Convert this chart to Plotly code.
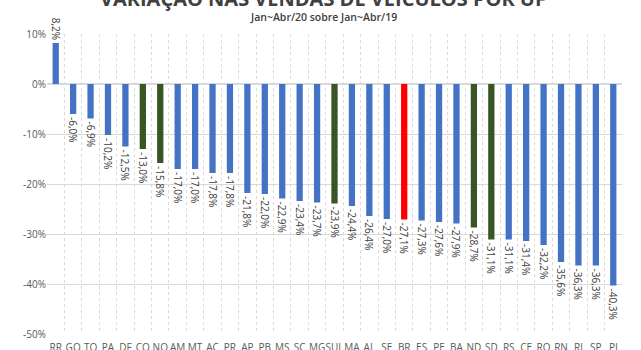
import plotly.graph_objects as go

categories = ["RR","GO","TO","PA","DF","CO","NO","AM","MT","AC","PR","AP","PB","MS","SC","MG",
              "SUL","MA","AL","SE","BR","ES","PE","BA","ND","SD","RS","CE","RO","RN","RJ","SP","PI"]
values = [8.2,-6.0,-6.9,-10.2,-12.5,-13.0,-15.8,-17.0,-17.0,-17.8,-17.8,-21.8,-22.0,-22.9,-23.4,-23.7,
          -23.9,-24.4,-26.4,-27.0,-27.1,-27.3,-27.6,-27.9,-28.7,-31.1,-31.1,-31.4,-32.2,-35.6,-36.3,-36.3,-40.3]
green_cats = ["CO","NO","SUL","ND","SD"]
red_cats = ["BR"]
y_ticks = [10, 0, -10, -20, -30, -40, -50]

BLUE = "#4472C4"
GREEN = "#375623"
RED = "#FF0000"
colors = [RED if c in red_cats else GREEN if c in green_cats else BLUE for c in categories]
labels = [f"{v:.1f}%".replace(".", ",") for v in values]

font = "Open Sans"
fig = go.Figure(go.Bar(
    x=categories, y=values, marker=dict(color=colors, line=dict(width=0)),
    text=labels, textposition="outside", textangle=90, cliponaxis=False,
    textfont=dict(family=font, size=10, color="#404040"),
))

fig.update_layout(
    width=641, height=350,
    margin=dict(l=47, r=19, t=34, b=16),
    paper_bgcolor="white", plot_bgcolor="white",
    bargap=0.64, showlegend=False,
    font=dict(family=font, color="#595959"),
    uniformtext=dict(minsize=9, mode="show"),
)
fig.update_xaxes(
    type="category", tickson="boundaries", showgrid=True, gridcolor="#d9d9d9",
    griddash="dot", gridwidth=1, ticks="", tickangle=0, automargin=False,
    ticklabelstandoff=6,
    tickfont=dict(size=10, color="#595959"), showline=False,
)
fig.update_yaxes(
    range=[-50, 10], tickvals=y_ticks, ticktext=[f"{t}%" for t in y_ticks],
    showgrid=True, gridcolor="#d9d9d9", zeroline=True, zerolinecolor="#d9d9d9",
    tickfont=dict(size=10, color="#595959"), ticks="", showline=False, automargin=False,
)
fig.add_annotation(text="<b>VARIAÇÃO NAS VENDAS DE VEÍCULOS POR UF</b>", xref="paper", x=0.48,
                   yref="paper", y=1, yshift=20, yanchor="bottom", showarrow=False,
                   font=dict(family=font, size=20, color="#404040"))
fig.add_annotation(text="Jan~Abr/20 sobre Jan~Abr/19", xref="paper", x=0.48,
                   yref="paper", y=1, yshift=17, showarrow=False, yanchor="middle",
                   font=dict(family=font, size=10.5, color="#404040", weight=600))
fig.write_html("out.html")
